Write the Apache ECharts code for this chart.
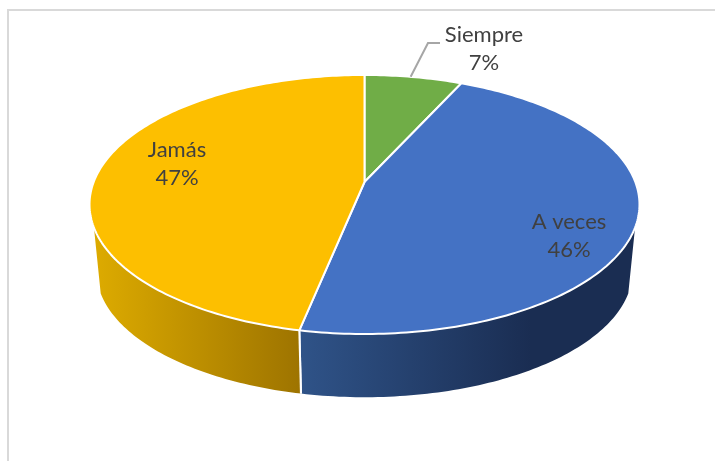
<!DOCTYPE html>
<html>
<head>
<meta charset="utf-8">
<style>html,body{margin:0;padding:0;background:#fff}#c{width:715px;height:461px}</style>
<script src="https://cdn.jsdelivr.net/npm/echarts@6/dist/echarts.min.js"></script>
</head>
<body>
<div id="c"></div>
<script>
const categories = ['Siempre', 'A veces', 'Jamás'];
const values = [6.8, 46.4, 46.8];
const percentLabels = ['7%', '46%', '47%'];
const topColors = ['#70AD47', '#4472C4', '#FDBF00'];

// Projection of the tilted disc
const CX = 364.5, CY = 182, A = 125.6, B = 270.8, P = 0.1737;
const DEPTH = 67, SHRINK = 0.975;
const WALL_FROM = 110, WALL_TO = 250;
const LABEL_POS = [[484, 49], [569, 236], [177, 164]];
const FONT = 'Lato, "Open Sans", sans-serif';

const total = values.reduce((s, v) => s + v, 0);
const bounds = [0];
values.forEach((v, i) => bounds.push(bounds[i] + v / total * 360));

function rim(deg) {
  const t = deg * Math.PI / 180, c = Math.cos(t), s = Math.sin(t), d = 1 + P * c;
  return [B * s / d, -A * c / d];
}
const topPt = deg => { const r = rim(deg); return [CX + r[0], CY + r[1]]; };
const lowPt = deg => { const r = rim(deg); return [CX + r[0] * SHRINK, CY + DEPTH + r[1] * SHRINK]; };
function arc(fn, a, b) {
  const pts = [], n = Math.max(2, Math.ceil(Math.abs(b - a)));
  for (let i = 0; i <= n; i++) pts.push(fn(a + (b - a) * i / n));
  return pts;
}
function grad(x0, x1, c0, c1) {
  return { type: 'linear', x: x0, y: 0, x2: x1, y2: 0, global: true,
           colorStops: [{ offset: 0, color: c0 }, { offset: 1, color: c1 }] };
}

function renderWall(params, api) {
  const i = params.dataIndex;
  const a = Math.max(bounds[i], WALL_FROM), b = Math.min(bounds[i + 1], WALL_TO);
  if (b <= a) return { type: 'group', children: [] };
  const pts = arc(topPt, a, b).concat(arc(lowPt, b, a));
  const sx = lowPt(bounds[i + 1] < WALL_TO ? bounds[i + 1] : WALL_TO)[0];
  const fill = i === 1
    ? grad(sx, sx + 230, '#2F5388', '#1A2D52')
    : grad(topPt(WALL_TO)[0], topPt(bounds[i])[0], '#DDAB00', '#9E7400');
  const children = [{ type: 'polygon', shape: { points: pts }, style: { fill: fill, stroke: null } }];
  [bounds[i], bounds[i + 1]].forEach(d => {
    if (d > WALL_FROM && d < WALL_TO) {
      const p = topPt(d), q = lowPt(d);
      children.push({ type: 'line', shape: { x1: p[0], y1: p[1], x2: q[0], y2: q[1] },
                      style: { stroke: '#fff', lineWidth: 2 } });
    }
  });
  return { type: 'group', children: children };
}

function renderTop(params, api) {
  const i = params.dataIndex;
  const pts = [[CX, CY]].concat(arc(topPt, bounds[i], bounds[i + 1]));
  return { type: 'polygon', shape: { points: pts },
           style: { fill: topColors[i], stroke: '#fff', lineWidth: 2, lineJoin: 'round' } };
}

function renderLabel(params, api) {
  const i = params.dataIndex, pos = LABEL_POS[i];
  const children = [{ type: 'text', x: pos[0], y: pos[1],
    style: { text: categories[i] + '\n' + percentLabels[i], x: 0, y: 0, align: 'center', verticalAlign: 'middle',
             fill: '#404040', font: '22px ' + FONT, lineHeight: 28 } }];
  if (i === 0) {
    const e = topPt(bounds[1] * 0.47);
    children.push({ type: 'polyline', shape: { points: [[e[0], e[1]], [428, 43], [440, 43]] },
                    style: { stroke: '#A6A6A6', lineWidth: 2, fill: null } });
  }
  return { type: 'group', children: children };
}

const chart = echarts.init(document.getElementById('c'), null, { renderer: 'canvas' });
chart.setOption({
  animation: false,
  backgroundColor: '#fff',
  graphic: [
    { type: 'line', shape: { x1: 7, y1: 10, x2: 715, y2: 10 }, style: { stroke: '#D9D9D9', lineWidth: 2 } },
    { type: 'line', shape: { x1: 8, y1: 9, x2: 8, y2: 461 }, style: { stroke: '#D9D9D9', lineWidth: 2 } }
  ],
  series: [
    { type: 'custom', coordinateSystem: 'none', silent: true, clip: false, data: values, renderItem: renderWall, z: 1 },
    { type: 'custom', coordinateSystem: 'none', silent: true, clip: false, data: values, renderItem: renderTop, z: 2 },
    { type: 'custom', coordinateSystem: 'none', silent: true, clip: false, data: values, renderItem: renderLabel, z: 3 }
  ]
});
</script>
</body>
</html>
